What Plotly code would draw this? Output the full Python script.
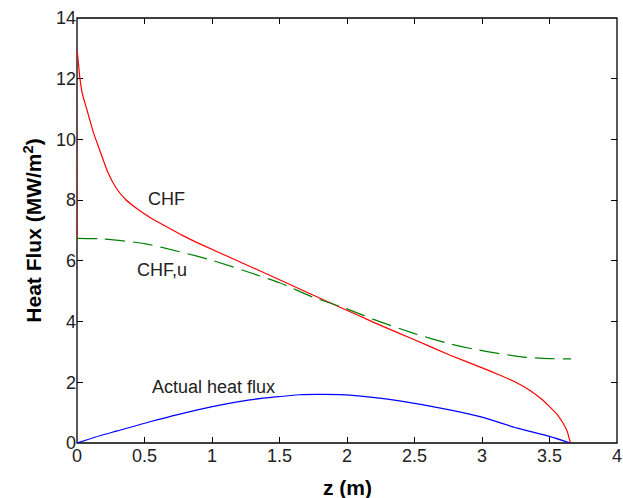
import plotly.graph_objects as go

# CHF (red)
z_chf = [0, 0, 0.02, 0.04, 0.074, 0.12, 0.168, 0.23, 0.29, 0.36, 0.44, 0.55, 0.66, 0.78,
         0.91, 1.2, 1.5, 1.8, 2.09, 2.24, 2.5, 2.76, 3.02, 3.13, 3.25, 3.35, 3.44, 3.5,
         3.56, 3.6, 3.63, 3.655]
chf = [6.7, 12.97, 12.07, 11.5, 10.97, 10.25, 9.65, 8.9, 8.4, 8.02, 7.73, 7.4, 7.13, 6.84,
       6.56, 5.98, 5.38, 4.77, 4.19, 3.89, 3.4, 2.9, 2.44, 2.24, 2.0, 1.75, 1.45, 1.2,
       0.92, 0.66, 0.4, 0.0]

# CHF,u (green dashed)
z_chfu = [0, 0.2, 0.5, 0.76, 1.0, 1.33, 1.5, 1.75, 2.0, 2.19, 2.49, 2.75, 2.93, 3.15,
          3.33, 3.5, 3.66]
chfu = [6.74, 6.72, 6.57, 6.3, 6.02, 5.54, 5.28, 4.8, 4.42, 4.08, 3.62, 3.28, 3.1, 2.93,
        2.82, 2.78, 2.77]

# Actual heat flux (blue)
z_act = [0, 0.17, 0.3, 0.54, 0.91, 1.28, 1.65, 1.83, 2.02, 2.39, 2.76, 3.0, 3.26, 3.5, 3.655]
act = [0, 0.24, 0.4, 0.70, 1.11, 1.42, 1.59, 1.6, 1.58, 1.39, 1.09, 0.85, 0.49, 0.22, 0]

x_ticks = [0, 0.5, 1, 1.5, 2, 2.5, 3, 3.5, 4]
x_labels = ["0", "0.5", "1", "1.5", "2", "2.5", "3", "3.5", "4"]
y_ticks = [0, 2, 4, 6, 8, 10, 12, 14]

labels = [("CHF", 0.665, 8.04), ("CHF,u", 0.63, 5.7), ("Actual heat flux", 1.01, 1.86)]

FONT = "Liberation Sans, Arial, sans-serif"

fig = go.Figure()
fig.add_trace(go.Scatter(x=z_chf, y=chf, mode="lines", cliponaxis=False,
                         line=dict(color="#ff0000", width=1.2, shape="spline", smoothing=0.4)))
fig.add_trace(go.Scatter(x=z_chfu, y=chfu, mode="lines", cliponaxis=False,
                         line=dict(color="#008000", width=1.2, dash="20px,8px",
                                   shape="spline", smoothing=0.6)))
fig.add_trace(go.Scatter(x=z_act, y=act, mode="lines", cliponaxis=False,
                         line=dict(color="#0000ff", width=1.2, shape="spline", smoothing=0.6)))

for text, x, y in labels:
    fig.add_annotation(x=x, y=y, text=text, showarrow=False,
                       font=dict(size=18, color="#222222", family=FONT))

# axis titles as annotations for exact placement
fig.add_annotation(x=0.5, y=-0.104, xref="paper", yref="paper", text="<b>z (m)</b>",
                   showarrow=False, font=dict(size=21, color="black", family=FONT),
                   xanchor="center", yanchor="middle")
fig.add_annotation(x=-0.083, y=0.5, xref="paper", yref="paper",
                   text="<b>Heat Flux (MW/m<sup>2</sup>)</b>", textangle=-90,
                   showarrow=False, font=dict(size=21, color="black", family=FONT),
                   xanchor="center", yanchor="middle")

# axes box
fig.add_shape(type="rect", xref="paper", yref="paper", x0=0, y0=0, x1=1, y1=1,
              line=dict(color="black", width=1.3), layer="below")

axis_common = dict(showline=False, mirror="ticks", layer="below traces",
                   ticks="inside", ticklen=6, tickcolor="black", tickwidth=1.3,
                   showgrid=False, zeroline=False, automargin=False,
                   tickfont=dict(size=18, color="#222222", family=FONT))

fig.update_xaxes(range=[0, 4], tickvals=x_ticks, ticktext=x_labels, **axis_common)
fig.update_yaxes(range=[0, 14], tickvals=y_ticks, **axis_common)

fig.update_layout(width=623, height=498, showlegend=False,
                  plot_bgcolor="white", paper_bgcolor="white",
                  margin=dict(l=77, r=6, t=18, b=55, autoexpand=False))

# drop the default page margin so the figure fills the window exactly
fig.write_html("out.html", config={"displayModeBar": False},
               post_script="document.body.style.margin='0';"
                           "document.body.style.overflow='hidden';")
